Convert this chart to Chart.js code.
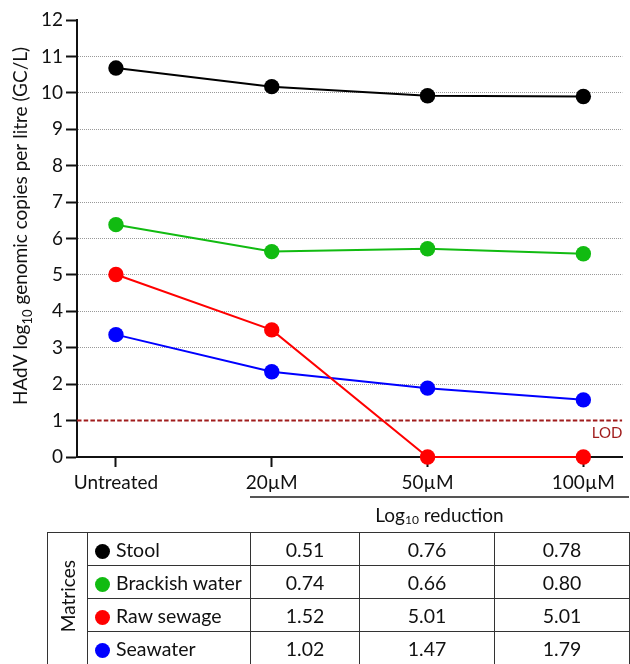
<!DOCTYPE html>
<html>
<head>
<meta charset="utf-8">
<script src="https://cdn.jsdelivr.net/npm/chart.js@4.4.0/dist/chart.umd.min.js"></script>
<style>
  body { margin: 0; background: #fff; font-family: Lato, "Open Sans", sans-serif; color: #111; }
  #wrap { position: relative; width: 630px; height: 664px; overflow: hidden; }
  #chart { position: absolute; left: 0; top: 0; }
  .rule { position: absolute; left: 250px; top: 496px; width: 379px; height: 2px; background: #555; }
  .caption { position: absolute; left: 250px; width: 379px; top: 503px; text-align: center; font-size: 19px; }
  .caption sub { font-size: 12px; vertical-align: -2px; }
  table { position: absolute; left: 47px; top: 532px; border-collapse: collapse; table-layout: fixed; font-size: 19.5px; }
  td { border: 1.5px solid #333; height: 32px; padding: 0; text-align: center; }
  td.name { text-align: left; padding-left: 7px; white-space: nowrap; }
  td.side span { display: inline-block; writing-mode: vertical-rl; transform: rotate(180deg); font-size: 19px; }
  .dot { display: inline-block; width: 15px; height: 15px; border-radius: 50%; margin-right: 6px; vertical-align: -2px; }
</style>
</head>
<body>
<div id="wrap">
  <canvas id="chart" width="630" height="500"></canvas>
  <div class="rule"></div>
  <div class="caption">Log<sub>10</sub> reduction</div>
  <table id="tbl"></table>
</div>
<script>
const categories = ['Untreated', '20µM', '50µM', '100µM'];
const stool = [10.68, 10.17, 9.92, 9.90];
const brackish = [6.38, 5.64, 5.72, 5.58];
const sewage = [5.01, 3.49, 0, 0];
const seawater = [3.36, 2.34, 1.89, 1.57];
const lodValue = 1;
const yMin = 0, yMax = 12;

const matrices = ['Stool', 'Brackish water', 'Raw sewage', 'Seawater'];
const matrixColors = ['#000000', '#11bb11', '#ff0000', '#0000ff'];
const reductionStool = ['0.51', '0.76', '0.78'];
const reductionBrackish = ['0.74', '0.66', '0.80'];
const reductionSewage = ['1.52', '5.01', '5.01'];
const reductionSeawater = ['1.02', '1.47', '1.79'];

function series(values) {
  return values.map((v, i) => ({ x: i, y: v }));
}

function lineSet(label, values, color) {
  return {
    label: label,
    data: series(values),
    borderColor: color,
    backgroundColor: color,
    borderWidth: 2,
    pointRadius: 7.7,
    pointHoverRadius: 7.7,
    pointBorderWidth: 0,
    clip: false
  };
}

// y axis title with a real subscript, plus the LOD tag
const annotations = {
  id: 'annotations',
  afterDraw(chart) {
    const ctx = chart.ctx;
    const area = chart.chartArea;
    const parts = [
      ['HAdV log', '19px Lato', 0],
      ['10', '13px Lato', 5],
      [' genomic copies per litre (GC/L)', '19px Lato', 0]
    ];
    ctx.save();
    let total = 0;
    parts.forEach(p => { ctx.font = p[1]; total += ctx.measureText(p[0]).width; });
    ctx.translate(27, 226);
    ctx.rotate(-Math.PI / 2);
    ctx.fillStyle = '#111';
    ctx.textBaseline = 'alphabetic';
    let x = -total / 2;
    parts.forEach(p => {
      ctx.font = p[1];
      ctx.fillText(p[0], x, p[2]);
      x += ctx.measureText(p[0]).width;
    });
    ctx.restore();

    const y = chart.scales.y.getPixelForValue(lodValue);
    ctx.save();
    ctx.font = '15px Lato';
    ctx.fillStyle = '#a01c1c';
    ctx.textAlign = 'right';
    ctx.textBaseline = 'alphabetic';
    ctx.fillText('LOD', area.right, y + 17);
    ctx.restore();
  }
};

new Chart(document.getElementById('chart'), {
  type: 'line',
  data: {
    datasets: [
      lineSet('Stool', stool, matrixColors[0]),
      lineSet('Brackish water', brackish, matrixColors[1]),
      lineSet('Raw sewage', sewage, matrixColors[2]),
      lineSet('Seawater', seawater, matrixColors[3]),
      {
        label: 'LOD',
        data: [{ x: -0.25, y: lodValue }, { x: categories.length - 0.75, y: lodValue }],
        borderColor: '#a01c1c',
        borderWidth: 2,
        borderDash: [4.5, 2.2],
        pointRadius: 0,
        order: 10
      }
    ]
  },
  options: {
    responsive: false,
    animation: false,
    events: [],
    layout: { padding: { top: 20, right: 0, left: 0, bottom: 0 } },
    plugins: { legend: { display: false }, tooltip: { enabled: false } },
    scales: {
      x: {
        type: 'linear',
        min: -0.25,
        max: categories.length - 0.75,
        afterBuildTicks: s => { s.ticks = categories.map((c, i) => ({ value: i })); },
        afterFit: s => { s.height = 43; },
        ticks: {
          callback: v => categories[v],
          font: { family: 'Lato', size: 19 },
          color: '#111',
          padding: 4,
          maxRotation: 0
        },
        grid: { drawOnChartArea: false, tickLength: 10, tickWidth: 2, tickColor: '#111' },
        border: { color: '#111', width: 2 }
      },
      y: {
        min: yMin,
        max: yMax,
        afterFit: s => { s.width = 77; },
        ticks: {
          stepSize: 1,
          font: { family: 'Lato', size: 19 },
          color: '#111',
          padding: 3
        },
        grid: {
          color: c => (c.tick && c.tick.value > 1 && c.tick.value < yMax) ? '#999' : 'rgba(0,0,0,0)',
          lineWidth: 1,
          tickLength: 11,
          tickWidth: 2,
          tickColor: '#111'
        },
        border: { color: '#111', width: 2, dash: [1, 1] }
      }
    }
  },
  plugins: [annotations]
});

// reduction table
const reductions = [reductionStool, reductionBrackish, reductionSewage, reductionSeawater];
const tbl = document.getElementById('tbl');
const colgroup = document.createElement('colgroup');
[40, 163, 109, 135, 135].forEach(w => {
  const col = document.createElement('col');
  col.style.width = w + 'px';
  colgroup.appendChild(col);
});
tbl.appendChild(colgroup);
matrices.forEach((name, r) => {
  const tr = document.createElement('tr');
  if (r === 0) {
    const side = document.createElement('td');
    side.className = 'side';
    side.rowSpan = matrices.length;
    side.innerHTML = '<span>Matrices</span>';
    tr.appendChild(side);
  }
  const nameCell = document.createElement('td');
  nameCell.className = 'name';
  nameCell.innerHTML = '<span class="dot" style="background:' + matrixColors[r] + '"></span>' + name;
  tr.appendChild(nameCell);
  reductions[r].forEach(v => {
    const td = document.createElement('td');
    td.textContent = v;
    tr.appendChild(td);
  });
  tbl.appendChild(tr);
});
</script>
</body>
</html>
